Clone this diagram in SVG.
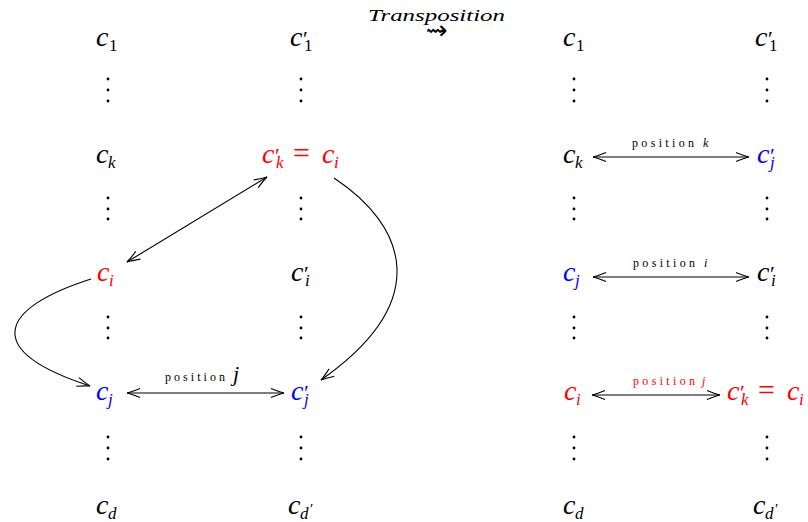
<svg xmlns="http://www.w3.org/2000/svg" width="808" height="522" viewBox="0 0 808 522">
<style>
.m{font-family:"Liberation Serif","DejaVu Serif",serif;font-style:italic;font-size:28px;fill:#000}
.up{font-style:normal}
.sub{font-size:17px}
.pr{font-size:22px;font-style:normal}
.eq{font-size:30px;font-style:normal}
.lbl{font-family:"Liberation Serif","DejaVu Serif",serif;font-size:12px;fill:#000}
.li{font-style:italic}
.r{fill:#ff0000}
.b{fill:#0000ff}
.dots circle{fill:#000}
.edge{fill:none;stroke:#000;stroke-width:1.1}
</style>
<defs>
<marker id="ah" viewBox="-15 -7 17 14" refX="0" refY="0" markerWidth="17" markerHeight="14" markerUnits="userSpaceOnUse" orient="auto-start-reverse" overflow="visible">
<path d="M -13,-4.5 Q -5,-1.2 0,0 Q -5,1.2 -13,4.5" fill="none" stroke="#000" stroke-width="1.1"/>
</marker>
</defs>

<g id="title">
<text class="m" x="368" y="21" style="font-size:17px" textLength="137" lengthAdjust="spacingAndGlyphs">Transposition</text>
<text x="437" y="39" text-anchor="middle" style="font-family:'DejaVu Sans',sans-serif;font-size:26px">⇝</text>
</g>

<!-- Left column 1 -->
<g id="L1_c1"><text class="m" x="96" y="46">c<tspan class="sub up" x="109" y="51">1</tspan></text></g>
<g id="L1_ck"><text class="m" x="96" y="163">c<tspan class="sub" x="108" y="168">k</tspan></text></g>
<g id="L1_ci"><text class="m r" x="97" y="281">c<tspan class="sub" x="109" y="286">i</tspan></text></g>
<g id="L1_cj"><text class="m b" x="96" y="400">c<tspan class="sub" x="108" y="405">j</tspan></text></g>
<g id="L1_cd"><text class="m" x="96" y="514">c<tspan class="sub" x="108" y="519">d</tspan></text></g>

<!-- Left column 2 -->
<g id="L2_c1"><text class="m" x="290" y="46">c<tspan class="pr" x="303" y="46">′</tspan><tspan class="sub up" x="304" y="51">1</tspan></text></g>
<g id="L2_ck"><text class="m r" x="262" y="163">c<tspan class="pr" x="275" y="163">′</tspan><tspan class="sub" x="276" y="168">k</tspan><tspan class="eq" x="293" y="163">=</tspan><tspan x="322" y="163">c</tspan><tspan class="sub" x="334" y="168">i</tspan></text></g>
<g id="L2_ci"><text class="m" x="291" y="281">c<tspan class="pr" x="304" y="281">′</tspan><tspan class="sub" x="305" y="286">i</tspan></text></g>
<g id="L2_cj"><text class="m b" x="291" y="400">c<tspan class="pr" x="304" y="400">′</tspan><tspan class="sub" x="304" y="405">j</tspan></text></g>
<g id="L2_cd"><text class="m" x="288" y="514">c<tspan class="sub" x="300" y="519">d</tspan><tspan class="pr" x="310" y="514" style="font-size:15px">′</tspan></text></g>

<!-- Right column 3 -->
<g id="R1_c1"><text class="m" x="563" y="46">c<tspan class="sub up" x="576" y="51">1</tspan></text></g>
<g id="R1_ck"><text class="m" x="563" y="163">c<tspan class="sub" x="575" y="168">k</tspan></text></g>
<g id="R1_cj"><text class="m b" x="563" y="281">c<tspan class="sub" x="575" y="286">j</tspan></text></g>
<g id="R1_ci"><text class="m r" x="564" y="400">c<tspan class="sub" x="576" y="405">i</tspan></text></g>
<g id="R1_cd"><text class="m" x="563" y="514">c<tspan class="sub" x="575" y="519">d</tspan></text></g>

<!-- Right column 4 -->
<g id="R2_c1"><text class="m" x="755" y="46">c<tspan class="pr" x="768" y="46">′</tspan><tspan class="sub up" x="769" y="51">1</tspan></text></g>
<g id="R2_cj"><text class="m b" x="757" y="163">c<tspan class="pr" x="770" y="163">′</tspan><tspan class="sub" x="770" y="168">j</tspan></text></g>
<g id="R2_ci"><text class="m" x="757" y="281">c<tspan class="pr" x="770" y="281">′</tspan><tspan class="sub" x="771" y="286">i</tspan></text></g>
<g id="R2_ck"><text class="m r" x="727" y="400">c<tspan class="pr" x="740" y="400">′</tspan><tspan class="sub" x="741" y="405">k</tspan><tspan class="eq" x="758" y="400">=</tspan><tspan x="787" y="400">c</tspan><tspan class="sub" x="799" y="405">i</tspan></text></g>
<g id="R2_cd"><text class="m" x="753" y="514">c<tspan class="sub" x="765" y="519">d</tspan><tspan class="pr" x="775" y="514" style="font-size:15px">′</tspan></text></g>

<!-- vertical dots -->
<g class="dots" id="dots">
<g transform="translate(108,0)"><circle cy="79" r="1.4"/><circle cy="90" r="1.4"/><circle cy="101" r="1.4"/><circle cy="198" r="1.4"/><circle cy="209" r="1.4"/><circle cy="219" r="1.4"/><circle cy="317" r="1.4"/><circle cy="328" r="1.4"/><circle cy="338" r="1.4"/><circle cy="437" r="1.4"/><circle cy="448" r="1.4"/><circle cy="459" r="1.4"/></g>
<g transform="translate(301,0)"><circle cy="79" r="1.4"/><circle cy="90" r="1.4"/><circle cy="101" r="1.4"/><circle cy="198" r="1.4"/><circle cy="209" r="1.4"/><circle cy="219" r="1.4"/><circle cy="317" r="1.4"/><circle cy="328" r="1.4"/><circle cy="338" r="1.4"/><circle cy="437" r="1.4"/><circle cy="448" r="1.4"/><circle cy="459" r="1.4"/></g>
<g transform="translate(574,0)"><circle cy="79" r="1.4"/><circle cy="90" r="1.4"/><circle cy="101" r="1.4"/><circle cy="198" r="1.4"/><circle cy="209" r="1.4"/><circle cy="219" r="1.4"/><circle cy="317" r="1.4"/><circle cy="328" r="1.4"/><circle cy="338" r="1.4"/><circle cy="437" r="1.4"/><circle cy="448" r="1.4"/><circle cy="459" r="1.4"/></g>
<g transform="translate(767,0)"><circle cy="79" r="1.4"/><circle cy="90" r="1.4"/><circle cy="101" r="1.4"/><circle cy="198" r="1.4"/><circle cy="209" r="1.4"/><circle cy="219" r="1.4"/><circle cy="317" r="1.4"/><circle cy="328" r="1.4"/><circle cy="338" r="1.4"/><circle cy="437" r="1.4"/><circle cy="448" r="1.4"/><circle cy="459" r="1.4"/></g>
</g>

<!-- connectors -->
<g id="connectors">
<path class="edge" d="M 127,262 L 267,177" marker-start="url(#ah)" marker-end="url(#ah)"/>
<path class="edge" d="M 91,279 C 0,308 -20,350 90,386" marker-end="url(#ah)"/>
<path class="edge" d="M 334,178 C 405,225 435,300 321,380" marker-end="url(#ah)"/>
<path class="edge" d="M 127,393 L 284,393" marker-start="url(#ah)" marker-end="url(#ah)"/>
<path class="edge" d="M 593,157 L 749,157" marker-start="url(#ah)" marker-end="url(#ah)"/>
<path class="edge" d="M 593,277 L 749,277" marker-start="url(#ah)" marker-end="url(#ah)"/>
<path class="edge" d="M 592,395 L 720,395" marker-start="url(#ah)" marker-end="url(#ah)"/>
<text class="lbl" x="165" y="381" textLength="60" lengthAdjust="spacing">position</text>
<text class="lbl li" x="233" y="381" style="font-size:22px">j</text>
<text class="lbl" x="632" y="147" textLength="62" lengthAdjust="spacing">position</text>
<text class="lbl li" x="703" y="147">k</text>
<text class="lbl" x="633" y="267" textLength="62" lengthAdjust="spacing">position</text>
<text class="lbl li" x="704" y="267">i</text>
<text class="lbl r" x="633" y="385" textLength="62" lengthAdjust="spacing">position</text>
<text class="lbl li r" x="702" y="385">j</text>
</g>
</svg>
